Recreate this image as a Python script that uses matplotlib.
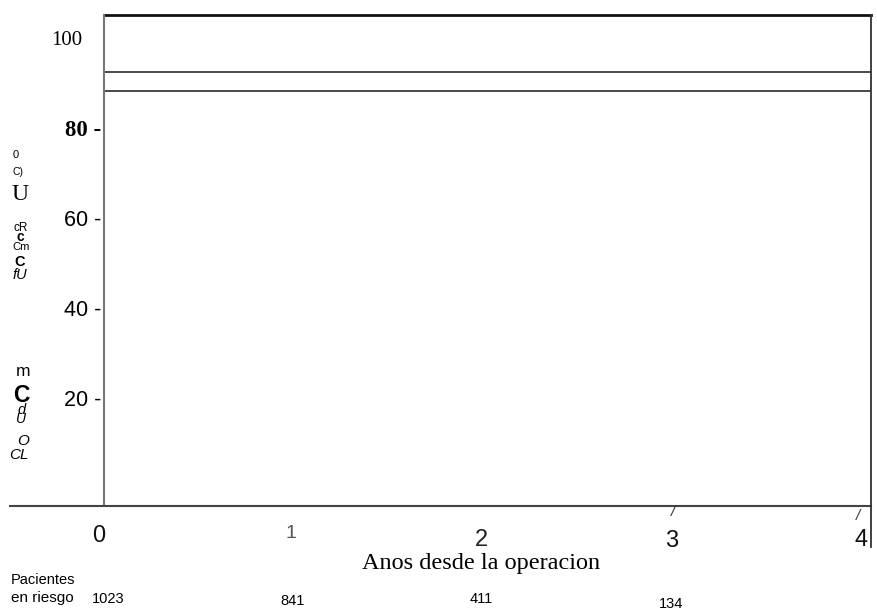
import matplotlib
matplotlib.use("Agg")
import matplotlib.pyplot as plt
import matplotlib.transforms as mtransforms

W, H = 878, 611

# survival curves (flat) and axes data
years = [0.0, 4.05]
curve_upper = [92.9, 92.9]
curve_lower = [88.7, 88.7]
x_ticks = [0, 1, 2, 3, 4]
y_ticks = [100, 80, 60, 40, 20]
y_tick_labels = ["100", "80 -", "60 -", "40 -", "20 -"]
at_risk_years = [0, 1, 2, 3]
at_risk = ["1023", "841", "411", "134"]

SERIF = ["Liberation Serif", "DejaVu Serif"]
SANS = ["Liberation Sans", "DejaVu Sans"]


def fx(x):
    return x / W


def fy(y):
    return 1 - y / H


fig = plt.figure(figsize=(W / 100, H / 100), dpi=100)
ax = fig.add_axes([fx(104), fy(506), fx(871) - fx(104), fy(15) - fy(506)])
ax.set_xlim(0.016, 4.05)
ax.set_ylim(-3.56, 105.6)
ax.set_xticks([])
ax.set_yticks([])
for s in ax.spines.values():
    s.set_visible(False)

# curves
ax.plot(years, curve_upper, color="#3a3a3a", lw=1.3)
ax.plot(years, curve_lower, color="#3a3a3a", lw=1.3)

# frame lines
ax.plot([0, 1], [1, 1], transform=ax.transAxes, color="#111111", lw=2.0, clip_on=False)
ax.plot([0, 0], [0, 1], transform=ax.transAxes, color="#777777", lw=1.5, clip_on=False)
ax.plot([-0.1226, 1], [0, 0], transform=ax.transAxes, color="#444444", lw=1.5, clip_on=False)
ax.plot([1, 1], [1, -0.0835], transform=ax.transAxes, color="#333333", lw=1.3, clip_on=False)

# y tick labels
ty = mtransforms.blended_transform_factory(ax.transAxes, ax.transData)
for v, lab in zip(y_ticks, y_tick_labels):
    if lab == "100":
        ax.text(-0.0287, v, lab, transform=ty, ha="right", va="center",
                fontsize=15, family=SERIF)
    elif lab == "80 -":
        ax.text(-0.003, v, lab, transform=ty, ha="right", va="center",
                fontsize=16.5, family=SERIF, fontweight="bold")
    else:
        ax.text(-0.003, v, lab, transform=ty, ha="right", va="center",
                fontsize=15.5, family=SANS)

# x tick labels
tx = mtransforms.blended_transform_factory(ax.transData, fig.transFigure)
x_label_y = [536, 533, 540, 541, 540]
x_label_size = [17, 14, 17, 17, 17]
x_label_color = ["#111111", "#555555", "#222222", "#111111", "#111111"]
x_label_dx = [-0.01, 0.0, 0.0, 0.0, 0.0]
for v, yy, sz, c, dx in zip(x_ticks, x_label_y, x_label_size, x_label_color, x_label_dx):
    ax.text(v + dx, fy(yy), str(v), transform=tx, ha="center", va="center",
            fontsize=sz, family=SANS, color=c)
ax.text(3.01, fy(512), "/", transform=tx, ha="center", va="center",
        fontsize=11, family=SANS, style="italic", color="#333333")
ax.text(3.98, fy(516), "/", transform=tx, ha="center", va="center",
        fontsize=11, family=SANS, style="italic", color="#333333")

ax.text(2.0, fy(563), "Anos desde la operacion", transform=tx, ha="center",
        va="center", fontsize=17.5, family=SERIF)

# number at risk
risk_y = [599, 601, 599, 604]
risk_dx = [0.04, 0.01, 0.0, 0.0]
for v, n, yy, dx in zip(at_risk_years, at_risk, risk_y, risk_dx):
    ax.text(v + dx, fy(yy), n, transform=tx, ha="center", va="center",
            fontsize=10.5, family=SANS)
fig.text(fx(43), fy(580), "Pacientes", ha="center", va="center", fontsize=10.5, family=SANS)
fig.text(fx(42), fy(598), "en riesgo", ha="center", va="center", fontsize=11, family=SANS)

# garbled y axis label (scanned)
glyphs = [
    ("0", 16, 155, 8, SANS, "normal", "normal"),
    ("C)", 18, 172, 7.5, SANS, "normal", "normal"),
    ("U", 20, 195, 17, SERIF, "normal", "normal"),
    ("cR", 21, 228, 8.5, SANS, "normal", "normal"),
    ("c", 20, 237, 10, SANS, "bold", "normal"),
    ("Cm", 21, 247, 8, SANS, "normal", "normal"),
    ("C", 20, 262, 10.5, SANS, "bold", "normal"),
    ("fU", 20, 275, 10.5, SANS, "normal", "italic"),
    ("m", 23, 371, 12.5, SANS, "normal", "normal"),
    ("C", 21, 396, 16.5, SANS, "bold", "normal"),
    ("d", 22, 410, 10.5, SANS, "normal", "italic"),
    ("U", 21, 419, 10, SANS, "normal", "italic"),
    ("O", 23, 441, 11, SANS, "normal", "italic"),
    ("CL", 19, 455, 11, SANS, "normal", "italic"),
]
for t, x, y, sz, fam, wt, st in glyphs:
    fig.text(fx(x), fy(y), t, ha="center", va="center", fontsize=sz,
             family=fam, fontweight=wt, style=st)

fig.savefig("out.png", dpi=100)
